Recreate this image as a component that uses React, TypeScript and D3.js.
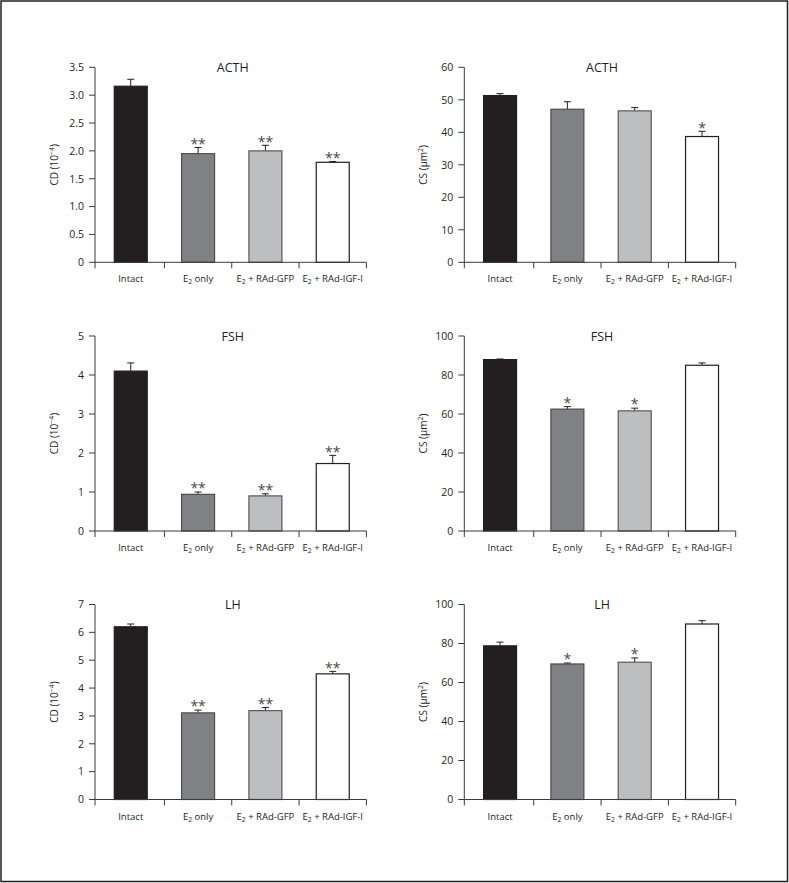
import React from "react";
import * as d3 from "d3";

const groups = ["Intact", "E2 only", "E2 + RAd-GFP", "E2 + RAd-IGF-I"];
const barColors = ["#231f20", "#808184", "#bcbec0", "#ffffff"];
const barStrokes = ["#231f20", "#4d4d4f", "#58595b", "#231f20"];

// ACTH
const cdACTH = [3.16, 1.95, 2.0, 1.795];
const cdACTHErr = [0.125, 0.11, 0.1, 0.015];
const cdACTHSig = ["", "**", "**", "**"];
const cdACTHTicks = [0, 0.5, 1.0, 1.5, 2.0, 2.5, 3.0, 3.5];

const csACTH = [51.3, 47.1, 46.6, 38.7];
const csACTHErr = [0.6, 2.3, 1.0, 1.6];
const csACTHSig = ["", "", "", "*"];
const csACTHTicks = [0, 10, 20, 30, 40, 50, 60];

// FSH
const cdFSH = [4.1, 0.94, 0.9, 1.73];
const cdFSHErr = [0.21, 0.06, 0.055, 0.21];
const cdFSHSig = ["", "**", "**", "**"];
const cdFSHTicks = [0, 1, 2, 3, 4, 5];

const csFSH = [87.9, 62.5, 61.6, 85.0];
const csFSHErr = [0.3, 1.3, 1.4, 1.2];
const csFSHSig = ["", "*", "*", ""];
const csFSHTicks = [0, 20, 40, 60, 80, 100];

// LH
const cdLH = [6.2, 3.11, 3.19, 4.51];
const cdLHErr = [0.1, 0.1, 0.11, 0.09];
const cdLHSig = ["", "**", "**", "**"];
const cdLHTicks = [0, 1, 2, 3, 4, 5, 6, 7];

const csLH = [78.8, 69.5, 70.4, 90.0];
const csLHErr = [1.9, 0.5, 2.2, 1.7];
const csLHSig = ["", "*", "*", ""];
const csLHTicks = [0, 20, 40, 60, 80, 100];

const FONT = "'Open Sans', 'Noto Sans', sans-serif";
const INK = "#231f20";
const AXIS = "#3c3a3b";

const colX = [95, 464.3];
const rowZero = [262.3, 531, 799.5];
const PLOT_H = 195;

type PanelProps = {
  axisX: number;
  zeroY: number;
  title: string;
  values: number[];
  errs: number[];
  sig: string[];
  ticks: number[];
  fixed: number;
  kind: "CD" | "CS";
};

function GroupLabel({ text, x, y }: { text: string; x: number; y: number }) {
  if (text.startsWith("E2")) {
    return (
      <text x={x} y={y} textAnchor="middle" fontSize={9.5} fontFamily={FONT} fill={INK}>
        E
        <tspan fontSize={6.8} dy={2}>2</tspan>
        <tspan dy={-2}>{text.slice(2)}</tspan>
      </text>
    );
  }
  return (
    <text x={x} y={y} textAnchor="middle" fontSize={9.5} fontFamily={FONT} fill={INK}>
      {text}
    </text>
  );
}

function Panel(p: PanelProps) {
  const { axisX, zeroY, values, errs, sig, ticks } = p;
  const max = ticks[ticks.length - 1];
  const y = d3.scaleLinear().domain([0, max]).range([zeroY, zeroY - PLOT_H]);
  const x = d3
    .scaleBand<string>()
    .domain(groups)
    .range([axisX + 2.1, axisX + 271.4])
    .paddingInner(0.51)
    .paddingOuter(0.255);
  const step = x.step();
  const x0 = axisX + 2.1;
  const xEnd = axisX + 271.4;
  const bw = x.bandwidth();
  const titleX = (x0 + xEnd) / 2 + 1;
  const fmt = (t: number) => (t === 0 ? "0" : p.fixed > 0 ? t.toFixed(p.fixed) : String(t));

  return (
    <g>
      {/* bars */}
      {groups.map((g, i) => {
        const bx = x(g)!;
        const top = y(values[i]);
        const cap = y(values[i] + errs[i]);
        const cx = bx + bw / 2;
        return (
          <g key={g}>
            <line x1={cx} x2={cx} y1={top} y2={cap} stroke={INK} strokeWidth={1} />
            <line x1={cx - 3.5} x2={cx + 3.5} y1={cap} y2={cap} stroke={INK} strokeWidth={1} />
            <rect
              x={bx}
              y={top}
              width={bw}
              height={zeroY - top}
              fill={barColors[i]}
              stroke={barStrokes[i]}
              strokeWidth={1.2}
            />
            {sig[i] && (
              <text x={cx} y={cap + 1.2} textAnchor="middle" fontSize={14} fontFamily={FONT} fill="#4a4a4a">
                {sig[i]}
              </text>
            )}
          </g>
        );
      })}
      {/* y axis */}
      <line x1={axisX} x2={axisX} y1={y(max)} y2={zeroY + 6} stroke={AXIS} strokeWidth={1} />
      {ticks.map((t) => (
        <g key={t}>
          <line x1={axisX - 6} x2={axisX} y1={y(t)} y2={y(t)} stroke={AXIS} strokeWidth={1} />
          <text
            x={axisX - 11}
            y={y(t)}
            dy="0.36em"
            textAnchor="end"
            fontSize={10.5}
            fontFamily={FONT}
            fill={INK}
          >
            {fmt(t)}
          </text>
        </g>
      ))}
      {/* x axis */}
      <line x1={axisX} x2={xEnd} y1={zeroY} y2={zeroY} stroke={AXIS} strokeWidth={1} />
      {[1, 2, 3, 4].map((k) => (
        <line
          key={k}
          x1={x0 + k * step}
          x2={x0 + k * step}
          y1={zeroY}
          y2={zeroY + 6}
          stroke={AXIS}
          strokeWidth={1}
        />
      ))}
      {groups.map((g) => (
        <GroupLabel key={g} text={g} x={x(g)! + bw / 2} y={zeroY + 20} />
      ))}
      {/* title */}
      <text x={titleX} y={y(max) + 4.5} textAnchor="middle" fontSize={12.5} fontFamily={FONT} fill={INK}>
        {p.title}
      </text>
      {/* y label */}
      <text
        transform={`translate(${axisX - 37.5},${zeroY - PLOT_H / 2}) rotate(-90)`}
        textAnchor="middle"
        fontSize={10}
        fontFamily={FONT}
        fill={INK}
      >
        {p.kind === "CD" ? (
          <>
            CD (10<tspan fontSize={7} dy={-4}>−4</tspan>
            <tspan dy={4}>)</tspan>
          </>
        ) : (
          <>
            CS (µm<tspan fontSize={7} dy={-4}>2</tspan>
            <tspan dy={4}>)</tspan>
          </>
        )}
      </text>
    </g>
  );
}

export default function App() {
  return (
    <svg
      width={789}
      height={883}
      style={{ position: "absolute", left: 0, top: 0, background: "#fff" }}
    >
      <rect x={0} y={0} width={789} height={883} fill="#fff" />
      <rect x={1} y={1} width={786.5} height={880.5} fill="none" stroke="#231f20" strokeWidth={1.5} />
      <Panel axisX={colX[0]} zeroY={rowZero[0]} title="ACTH" values={cdACTH} errs={cdACTHErr} sig={cdACTHSig} ticks={cdACTHTicks} fixed={1} kind="CD" />
      <Panel axisX={colX[1]} zeroY={rowZero[0]} title="ACTH" values={csACTH} errs={csACTHErr} sig={csACTHSig} ticks={csACTHTicks} fixed={0} kind="CS" />
      <Panel axisX={colX[0]} zeroY={rowZero[1]} title="FSH" values={cdFSH} errs={cdFSHErr} sig={cdFSHSig} ticks={cdFSHTicks} fixed={0} kind="CD" />
      <Panel axisX={colX[1]} zeroY={rowZero[1]} title="FSH" values={csFSH} errs={csFSHErr} sig={csFSHSig} ticks={csFSHTicks} fixed={0} kind="CS" />
      <Panel axisX={colX[0]} zeroY={rowZero[2]} title="LH" values={cdLH} errs={cdLHErr} sig={cdLHSig} ticks={cdLHTicks} fixed={0} kind="CD" />
      <Panel axisX={colX[1]} zeroY={rowZero[2]} title="LH" values={csLH} errs={csLHErr} sig={csLHSig} ticks={csLHTicks} fixed={0} kind="CS" />
    </svg>
  );
}
